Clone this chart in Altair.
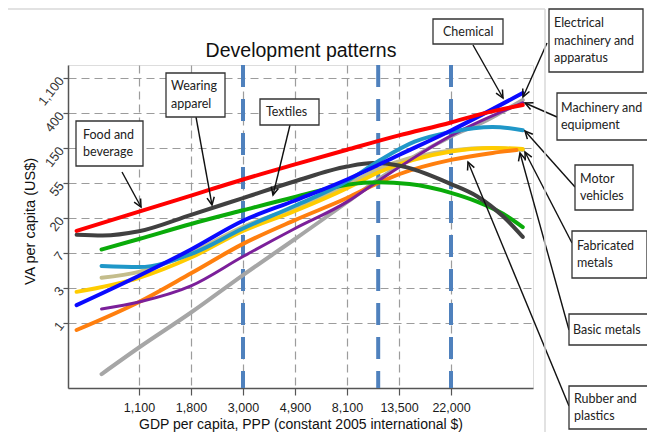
import math
import altair as alt
import pandas as pd

# ---------------- data (natural logs, as plotted) ----------------
x_ticks = [7.0, 7.5, 8.0, 8.5, 9.0, 9.5, 10.0]
x_tick_labels = ["1,100", "1,800", "3,000", "4,900", "8,100", "13,500", "22,000"]
y_ticks = [0, 1, 2, 3, 4, 5, 6, 7]
y_tick_labels = ["1", "3", "7", "20", "55", "150", "400", "1,100"]
threshold_x = [8.0, 9.3, 10.0]

chemical_x = [6.64, 7.0, 7.5, 8.0, 8.5, 9.0, 9.3, 10.0, 10.35, 10.69]
chemical_y = [-1.46, -0.7, 0.3, 1.37, 2.4, 3.45, 4.1, 5.33, 5.8, 6.37]

basic_x = [6.64, 7.0, 7.5, 8.0, 8.5, 9.0, 9.3, 10.0, 10.4, 10.69]
basic_y = [1.29, 1.46, 2.0, 2.75, 3.3, 3.95, 4.4, 4.93, 5.0, 4.94]

fabricated_x = [6.40, 7.0, 7.5, 8.0, 8.5, 9.0, 9.3, 10.0, 10.4, 10.69]
fabricated_y = [0.89, 1.29, 1.87, 2.63, 3.2, 3.85, 4.3, 4.9, 5.0, 4.97]

rubber_x = [6.40, 7.0, 7.5, 8.0, 8.5, 9.0, 9.3, 9.5, 10.0, 10.4, 10.63]
rubber_y = [-0.2, 0.6, 1.42, 2.26, 2.94, 3.57, 4.0, 4.25, 4.66, 4.86, 4.94]

machinery_x = [6.64, 7.0, 7.5, 8.0, 8.5, 9.0, 9.3, 10.0, 10.69]
machinery_y = [0.4, 0.6, 1.06, 1.9, 2.7, 3.46, 4.06, 5.35, 6.29]

textiles_x = [6.64, 7.0, 7.5, 8.0, 8.5, 9.0, 9.3, 9.6, 10.0, 10.25, 10.5, 10.69]
textiles_y = [2.1, 2.4, 2.83, 3.22, 3.6, 3.95, 4.02, 3.97, 3.72, 3.47, 3.12, 2.74]

apparel_x = [6.40, 6.65, 7.0, 7.5, 8.0, 8.5, 9.0, 9.25, 9.5, 10.0, 10.25, 10.5, 10.69]
apparel_y = [2.52, 2.5, 2.62, 3.09, 3.57, 4.05, 4.47, 4.57, 4.5, 3.97, 3.62, 3.05, 2.46]

motor_x = [6.64, 7.0, 7.5, 8.0, 8.5, 9.0, 9.3, 9.65, 10.0, 10.4, 10.69]
motor_y = [1.63, 1.6, 1.97, 2.7, 3.35, 4.05, 4.62, 5.18, 5.46, 5.6, 5.51]

electrical_x = [6.40, 7.0, 7.5, 8.0, 8.5, 9.0, 9.5, 10.0, 10.69]
electrical_y = [0.51, 1.35, 2.1, 2.92, 3.5, 4.1, 4.8, 5.5, 6.57]

food_x = [6.40, 7.0, 7.5, 8.0, 8.5, 9.0, 9.5, 10.0, 10.25, 10.69]
food_y = [2.63, 3.18, 3.64, 4.1, 4.53, 4.95, 5.36, 5.73, 5.94, 6.23]

# drawing order (bottom -> top), colours
series = [
    ("Chemical", chemical_x, chemical_y, "#a6a6a6"),
    ("Basic metals", basic_x, basic_y, "#c4bd8c"),
    ("Fabricated metals", fabricated_x, fabricated_y, "#ffcc00"),
    ("Rubber and plastics", rubber_x, rubber_y, "#ff7f0e"),
    ("Machinery and equipment", machinery_x, machinery_y, "#7b1f9a"),
    ("Textiles", textiles_x, textiles_y, "#0aab0a"),
    ("Wearing apparel", apparel_x, apparel_y, "#404040"),
    ("Motor vehicles", motor_x, motor_y, "#1f97c8"),
    ("Electrical machinery and apparatus", electrical_x, electrical_y, "#0a0aff"),
    ("Food and beverage", food_x, food_y, "#ff0000"),
]

# annotation texts
ann_text = ["Food and\nbeverage", "Wearing\napparel", "Textiles", "Chemical",
            "Electrical\nmachinery and\napparatus", "Machinery and\nequipment",
            "Motor\nvehicles", "Fabricated\nmetals", "Basic metals", "Rubber and\nplastics"]

# ---------------- layout (page pixels) ----------------
LEFT, TOP, W, H = 68, 65, 465, 323
PX_X, X_REF, PX_XREF = 104.0, 7.0, 139.0
PX_Y, PY_ZERO = 35.0, 323.0
LINE_H = 17.5


def px2x(p):
    return X_REF + (p - PX_XREF) / PX_X


def py2y(p):
    return (PY_ZERO - p) / PX_Y


X0, X1 = px2x(LEFT), px2x(LEFT + W)
Y0, Y1 = py2y(TOP + H), py2y(TOP)

box_l = [76, 166, 260, 433, 549, 557, 575, 572, 569, 569]
box_t = [121, 73, 99, 19, 9, 93, 165, 231, 314, 386]
box_r = [143, 225, 319, 503, 643, 660, 633, 647, 652, 648]
box_b = [166, 117, 125, 44, 72, 140, 210, 278, 345, 429]
text_x = [83, 171, 266, 443, 554, 561, 580, 577, 573, 574]
arr_tx = [122, 196, 290, 473, 547, 557, 575, 572, 569, 569]
arr_ty = [172, 117, 125, 45, 43, 117, 187, 243, 330, 406]
arr_hx = [141, 212, 273, 503, 523, 525, 525, 525, 520, 468]
arr_hy = [207, 205, 195, 98, 97, 103, 131, 152, 153, 162]

SANS = "Liberation Sans, Arial, sans-serif"
BOXFONT = "Lato, Carlito, Calibri, sans-serif"

xs = alt.Scale(domain=[X0, X1], nice=False, zero=False)
ys = alt.Scale(domain=[Y0, Y1], nice=False, zero=False)

x_vals_js = "[" + ",".join(str(v) for v in x_ticks) + "]"
x_labs_js = "[" + ",".join("'" + s + "'" for s in x_tick_labels) + "]"
y_vals_js = "[" + ",".join(str(v) for v in y_ticks) + "]"
y_labs_js = "[" + ",".join("'" + s + "'" for s in y_tick_labels) + "]"

xaxis = alt.Axis(
    values=x_ticks,
    labelExpr=f"{x_labs_js}[indexof({x_vals_js}, datum.value)]",
    grid=True, gridDash=[8, 5], gridColor="#9c9c9c", gridWidth=1.2,
    domainColor="#555555", domainWidth=1.5, tickColor="#555555", tickSize=7, tickWidth=1.2,
    labelFont=SANS, labelFontSize=12.5, labelColor="#1a1a1a", labelPadding=6,
    labelOverlap=False, labelFlush=False,
    title="GDP per capita, PPP (constant 2005 international $)",
    titleFont=SANS, titleFontSize=14, titleFontWeight="normal", titleColor="#111111",
    titleY=40, titleBaseline="alphabetic",
)
yaxis = alt.Axis(
    values=y_ticks,
    labelExpr=f"{y_labs_js}[indexof({y_vals_js}, datum.value)]",
    grid=True, gridDash=[8, 5], gridColor="#9c9c9c", gridWidth=1.2,
    domainColor="#555555", domainWidth=1.5, tickColor="#555555", tickSize=5, tickWidth=1.2,
    labelFont=SANS, labelFontSize=13, labelColor="#333333", labelAngle=308,
    labelAlign="right", labelBaseline="middle", labelPadding=2,
    labelOverlap=False, labelFlush=False,
    title="VA per capita (US$)", titleFont=SANS, titleFontSize=14.5,
    titleFontWeight="normal", titleColor="#111111", titleAngle=270,
    titleX=-34, titleY=156, titleAlign="center", titleBaseline="alphabetic",
)


def X(f):
    return alt.X(f, type="quantitative", scale=xs, axis=xaxis)


def Y(f):
    return alt.Y(f, type="quantitative", scale=ys, axis=yaxis)


layers = []

# threshold lines
thr = pd.DataFrame({"x": threshold_x})
layers.append(
    alt.Chart(thr).mark_rule(color="#4f81bd", strokeWidth=4, strokeDash=[22, 12]).encode(x=X("x"))
)

# curves
for name, xv, yv, col in series:
    d = pd.DataFrame({"x": xv, "y": yv, "series": name})
    sw = 3 if name == "Machinery and equipment" else 4
    layers.append(
        alt.Chart(d).mark_line(color=col, strokeWidth=sw, interpolate="monotone", strokeCap="round")
        .encode(x=X("x"), y=Y("y"))
    )

# annotations
rows = []
for i, t in enumerate(ann_text):
    dx = arr_hx[i] - arr_tx[i]
    dy = arr_hy[i] - arr_ty[i]
    ang = math.degrees(math.atan2(dx, -dy)) % 360
    n_lines = t.count("\n") + 1
    first_line_py = (box_t[i] + box_b[i]) / 2.0 - (n_lines - 1) * LINE_H / 2.0
    rows.append({
        "bx": px2x(box_l[i]), "bx2": px2x(box_r[i]),
        "by": py2y(box_t[i]), "by2": py2y(box_b[i]),
        "tx": px2x(text_x[i]), "ty": py2y(first_line_py),
        "ax": px2x(arr_tx[i]), "ay": py2y(arr_ty[i]),
        "hx": px2x(arr_hx[i]), "hy": py2y(arr_hy[i]),
        "ang": ang, "text": t,
    })
ann = pd.DataFrame(rows)

layers.append(
    alt.Chart(ann).mark_rule(color="#111111", strokeWidth=1.4)
    .encode(x=X("ax"), y=Y("ay"), x2="hx", y2="hy")
)
layers.append(
    alt.Chart(ann).mark_point(shape="M -0.6 1.25 L 0 0 L 0.6 1.25", size=150, filled=False,
                              color="#111111", strokeWidth=1.5, opacity=1)
    .encode(x=X("hx"), y=Y("hy"), angle=alt.Angle("ang:Q", scale=None))
)
layers.append(
    alt.Chart(ann).mark_rect(fill="white", stroke="#333333", strokeWidth=1.3)
    .encode(x=X("bx"), x2="bx2", y=Y("by"), y2="by2")
)
layers.append(
    alt.Chart(ann).mark_text(font=BOXFONT, fontSize=12.5, lineHeight=LINE_H, align="left",
                             baseline="middle", color="#222222", lineBreak="\n")
    .encode(x=X("tx"), y=Y("ty"), text="text:N")
)

# title and frame
one = pd.DataFrame({"t": ["Development patterns"]})
layers.append(
    alt.Chart(one).mark_text(font=SANS, fontSize=19.5, align="center", baseline="alphabetic",
                             color="#111111")
    .encode(x=alt.value(233), y=alt.value(-8), text="t:N")
)
layers.append(
    alt.Chart(one).mark_rule(color="#d9d9d9", strokeWidth=1.5)
    .encode(x=alt.value(-62), x2=alt.value(477), y=alt.value(-56))
)
layers.append(
    alt.Chart(one).mark_rule(color="#d9d9d9", strokeWidth=1.5)
    .encode(x=alt.value(477), y=alt.value(-56), y2=alt.value(380))
)

chart = alt.layer(*layers).properties(
    width=W, height=H,
    autosize=alt.AutoSizeParams(type="none"),
    padding={"left": LEFT - 8, "top": TOP - 8, "right": 114, "bottom": 44},
).configure_view(stroke=None).configure(background="white")

chart.save("out.html", embed_options={"renderer": "svg", "actions": False})
